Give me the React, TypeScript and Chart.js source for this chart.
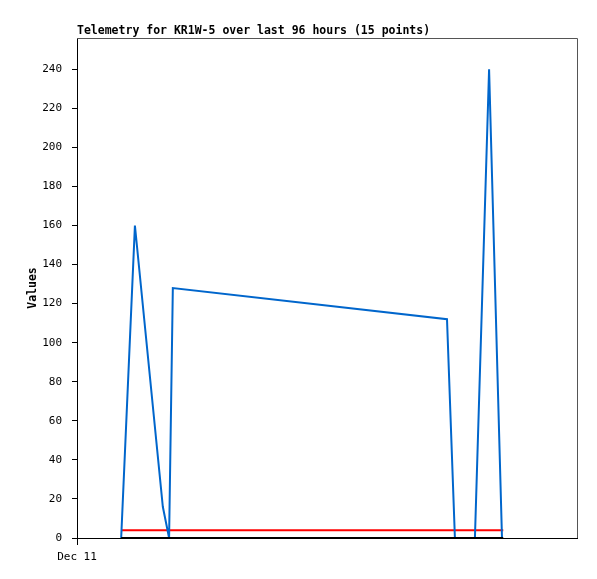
import React, { useEffect, useRef } from "react";
import { Chart, registerables } from "chart.js";

Chart.register(...registerables);

const TITLE = "Telemetry for KR1W-5 over last 96 hours (15 points)";
const Y_TITLE = "Values";
const X_TICK_LABEL = "Dec 11";

// hours since Dec 11 00:00
const telemetryHours = [10.6, 13.9, 20.6, 22.1, 23.0, 88.8, 90.7, 95.5, 98.9, 102.0];
const telemetryValues = [0, 160, 16, 0, 128, 112, 0, 0, 240, 0];

const refHours = [10.6, 102.3];
const redValues = [4, 4];
const blackValues = [0, 0];

const yTicks = [0, 20, 40, 60, 80, 100, 120, 140, 160, 180, 200, 220, 240];
const xTicks = [0];
const X_MIN = 0;
const X_MAX = 120;
const Y_MIN = 0;
const Y_MAX = 256;

const MONO = "'DejaVu Sans Mono', monospace";

export default function App() {
  const ref = useRef<HTMLCanvasElement | null>(null);

  useEffect(() => {
    document.body.style.margin = "0";
    const canvas = ref.current;
    if (!canvas) return;

    const toPts = (xs: number[], ys: number[]) => xs.map((x, i) => ({ x, y: ys[i] }));

    const framePlugin = {
      id: "frame",
      afterDraw(chart: any) {
        const { ctx, chartArea } = chart;
        ctx.save();
        ctx.strokeStyle = "#555555";
        ctx.lineWidth = 1;
        ctx.beginPath();
        ctx.moveTo(chartArea.left, chartArea.top + 0.5);
        ctx.lineTo(chartArea.right + 0.5, chartArea.top + 0.5);
        ctx.lineTo(chartArea.right + 0.5, chartArea.bottom);
        ctx.stroke();

        ctx.fillStyle = "#000";
        ctx.font = "bold 11.5px " + MONO;
        ctx.textAlign = "left";
        ctx.textBaseline = "alphabetic";
        ctx.fillText(TITLE, chartArea.left, 34);

        ctx.translate(36, (chartArea.top + chartArea.bottom) / 2);
        ctx.rotate(-Math.PI / 2);
        ctx.textAlign = "center";
        ctx.textBaseline = "alphabetic";
        ctx.fillText(Y_TITLE, 0, 0);
        ctx.restore();
      },
    };

    const chart = new Chart(canvas, {
      type: "line",
      data: {
        datasets: [
          {
            label: "telemetry",
            data: toPts(telemetryHours, telemetryValues),
            borderColor: "#0066CC",
            borderWidth: 2,
            pointRadius: 0,
            tension: 0,
            order: 0,
          },
          {
            label: "red",
            data: toPts(refHours, redValues),
            borderColor: "#FF0000",
            borderWidth: 2,
            pointRadius: 0,
            order: 1,
          },
          {
            label: "black",
            data: toPts(refHours, blackValues),
            borderColor: "#000000",
            borderWidth: 2,
            pointRadius: 0,
            order: -1,
          },
        ],
      },
      options: {
        animation: false,
        responsive: false,
        maintainAspectRatio: false,
        layout: { padding: { top: 38, right: 20, left: 0, bottom: 0 } },
        plugins: {
          legend: { display: false },
          title: { display: false },
          tooltip: { enabled: false },
        },
        scales: {
          x: {
            type: "linear",
            min: X_MIN,
            max: X_MAX,
            afterBuildTicks: (scale: any) => {
              scale.ticks = xTicks.map((v) => ({ value: v }));
            },
            afterFit: (scale: any) => {
              scale.height = 41;
            },
            ticks: {
              color: "#000",
              font: { family: MONO, size: 11 },
              padding: 6,
              maxRotation: 0,
              autoSkip: false,
              callback: () => X_TICK_LABEL,
            },
            grid: {
              drawOnChartArea: false,
              drawTicks: true,
              tickLength: 7,
              color: "#000",
            },
            border: { display: true, color: "#000" },
          },
          y: {
            type: "linear",
            min: Y_MIN,
            max: Y_MAX,
            afterBuildTicks: (scale: any) => {
              scale.ticks = yTicks.map((v) => ({ value: v }));
            },
            afterFit: (scale: any) => {
              scale.width = 77;
            },
            ticks: {
              color: "#000",
              font: { family: MONO, size: 11 },
              padding: 10,
              autoSkip: false,
            },
            grid: {
              drawOnChartArea: false,
              drawTicks: true,
              tickLength: 5,
              color: "#000",
            },
            border: { display: true, color: "#000" },
          },
        },
      },
      plugins: [framePlugin],
    } as any);

    return () => chart.destroy();
  }, []);

  return (
    <div style={{ position: "absolute", left: 0, top: 0, width: 597, height: 579, background: "#fff" }}>
      <canvas ref={ref} width={597} height={579} style={{ width: 597, height: 579, display: "block" }} />
    </div>
  );
}
